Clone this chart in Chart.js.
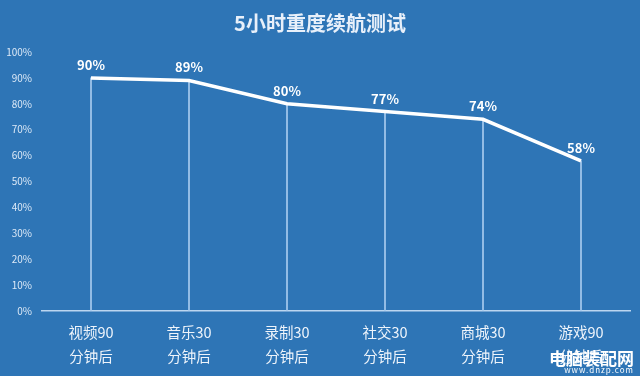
<!DOCTYPE html>
<html><head><meta charset="utf-8">
<script src="https://cdn.jsdelivr.net/npm/chart.js@4/dist/chart.umd.min.js"></script>
<style>
html,body{margin:0;padding:0;background:#2e75b6;}
#wrap{position:relative;width:640px;height:376px;}
#wm{position:absolute;right:6px;bottom:2px;color:#ffffff;font-family:"Noto Sans CJK SC";text-align:right;line-height:1;}
#wm .a{font-size:17px;font-weight:bold;}
#wm .b{font-size:8px;letter-spacing:1px;}
</style></head><body>
<div id="wrap"><canvas id="c" width="640" height="376"></canvas>
<div id="wm"><div class="a">电脑装配网</div><div class="b">www.dnzp.com</div></div></div>
<script>
const title = "5小时重度续航测试";
const categories = [["视频90","分钟后"],["音乐30","分钟后"],["录制30","分钟后"],["社交30","分钟后"],["商城30","分钟后"],["游戏90","分钟后"]];
const values = [90, 89, 80, 77, 74, 58];
const yTicks = [0,10,20,30,40,50,60,70,80,90,100];

const labelPlugin = {
  id:'labels',
  afterDatasetsDraw(chart){
    const ctx = chart.ctx;
    const meta = chart.getDatasetMeta(1);
    ctx.save();
    ctx.fillStyle = '#ffffff';
    ctx.font = 'bold 13px "Noto Sans CJK SC"';
    ctx.textAlign = 'center';
    ctx.textBaseline = 'middle';
    meta.data.forEach((pt,i)=>{
      ctx.fillText(values[i]+'%', pt.x, pt.y-13);
    });
    ctx.restore();
  }
};
const titlePlugin = {
  id:'ttl',
  afterDraw(chart){
    const ctx = chart.ctx;
    ctx.save();
    ctx.fillStyle = '#e8f0fa';
    ctx.font = '600 20px "Noto Sans CJK SC"';
    ctx.textAlign = 'center';
    ctx.textBaseline = 'middle';
    ctx.fillText(title, 320, 23);
    ctx.restore();
  }
};

new Chart(document.getElementById('c'), {
  data:{
    labels: categories,
    datasets:[
      {type:'bar', data: values, backgroundColor:'#a8cbee', barThickness:1, order:2},
      {type:'line', data: values, borderColor:'#ffffff', borderWidth:3.5, pointRadius:0, tension:0, order:1}
    ]
  },
  options:{
    responsive:false, animation:false,
    layout:{padding:{top:52,right:10,left:0,bottom:0}},
    plugins:{legend:{display:false}, tooltip:{enabled:false}},
    scales:{
      x:{
        offset:true,
        grid:{display:false, drawTicks:false},
        border:{display:true, color:'#bcd6f0', width:1.5},
        ticks:{color:'#eef4fb', font:{family:'"Noto Sans CJK SC"', size:14.5, lineHeight:1.65}, padding:10, maxRotation:0},
        afterFit(s){ s.height = 65; }
      },
      y:{
        min:0, max:100,
        grid:{display:false, drawTicks:false},
        border:{display:false},
        afterBuildTicks(s){ s.ticks = yTicks.map(v=>({value:v})); },
        ticks:{color:'#dce9f7', font:{family:'"Noto Sans CJK SC"', size:10}, padding:10, callback:v=>v+'%'},
        afterFit(s){ s.width = 42; }
      }
    }
  },
  plugins:[labelPlugin, titlePlugin]
});
</script>
</body></html>
